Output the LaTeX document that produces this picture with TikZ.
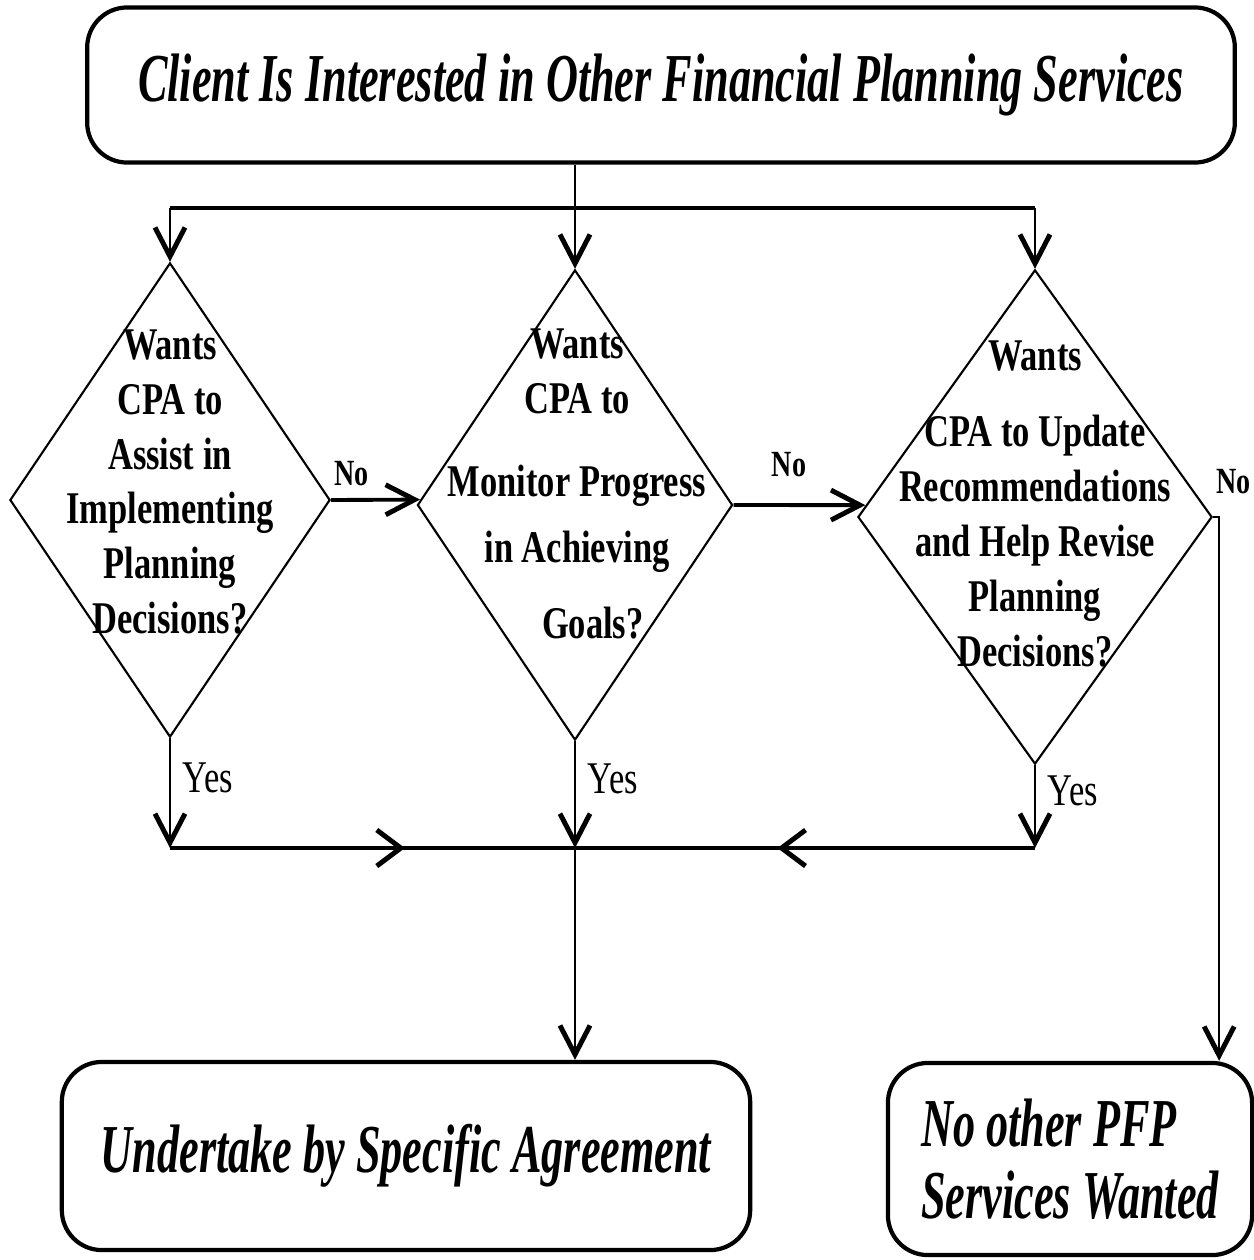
\documentclass[tikz,border=0pt]{standalone}
\usepackage{fontspec}
\setmainfont{Liberation Serif}[FakeStretch=0.76]
\newfontfamily\termfont{Liberation Serif}[FakeStretch=0.645]
\usetikzlibrary{positioning,arrows.meta,shapes.geometric,calc,decorations.markings}

\begin{document}
\begin{tikzpicture}[
  x=0.01cm, y=-0.01cm,
  term/.style={draw, line width=1.2pt, rounded corners=0.4cm, align=center,
               font=\termfont\fontsize{19.5}{20.5}\selectfont\bfseries\itshape},
  decision/.style={draw, diamond, line width=0.6pt, inner sep=0pt},
  qtext/.style={align=center, font=\fontsize{12.9}{15.6}\selectfont\bfseries},
  nolbl/.style={font=\fontsize{10.5}{12}\selectfont\bfseries},
  yeslbl/.style={font=\fontsize{12.9}{14}\selectfont},
  arrow/.style={-{Straight Barb[length=2.9mm, width=3mm, line width=1.4pt]}, line width=0.6pt},
  thickarrow/.style={arrow, line width=1.1pt},
  midto/.style={decoration={markings, mark=at position #1 with
                {\arrow{Straight Barb[length=2.4mm, width=3.6mm, line width=1.4pt]}}},
                postaction={decorate}}
]
  \useasboundingbox (0,0) rectangle (1254,1260);

  % start
  \node[term, minimum width=11.47cm, minimum height=1.55cm] (client) at (661,85)
    {Client Is Interested in Other Financial Planning Services};

  % decisions
  \node[decision, minimum width=3.2cm, minimum height=4.74cm] (assist) at (170,500) {};
  \node[decision, minimum width=3.15cm, minimum height=4.7cm] (monitor) at (575,505) {};
  \node[decision, minimum width=3.54cm, minimum height=4.94cm] (update) at (1035,517) {};

  \node[qtext] (assisttxt) at ($(assist)+(0,-18)$)
    {Wants\\CPA to\\Assist in\\Implementing\\Planning\\Decisions?};
  \node[qtext] (monitortxt) at ($(monitor)+(2,-21)$)
    {Wants\\CPA to\\[8pt]Monitor Progress\\[3pt]in Achieving\\[6pt]\hspace*{0.7em}Goals?};
  \node[qtext] (updatetxt) at ($(update)+(0,-13)$)
    {Wants\\[6pt]CPA to Update\\Recommendations\\and Help Revise\\Planning\\Decisions?};

  % ends
  \node[term, minimum width=6.88cm, minimum height=1.88cm] (agree) at (406,1156)
    {Undertake by Specific Agreement};
  \node[term, align=left, minimum width=3.64cm, minimum height=1.92cm] (noserv) at (1070,1159)
    {No other PFP\\Services Wanted};

  % fan out
  \coordinate (split) at (monitor.north |- 0,208);
  \draw[line width=1.1pt] (assist.north |- split) -- (update.north |- split);
  \draw[arrow] (monitor.north |- client.south) -- (monitor.north);
  \draw[arrow] (assist.north |- split) -- (assist.north);
  \draw[arrow] (update.north |- split) -- (update.north);

  % no branches
  \draw[thickarrow] (assist.east) -- node[nolbl, above, pos=0.23] (no1) {No} (monitor.178);
  \draw[thickarrow] (monitor.east) -- node[nolbl, above=4pt, pos=0.42] (no2) {No} (update.176);
  \coordinate (turn) at ($(update.east)+(6,0)$);
  \draw[arrow] (update.east) -- (turn) -- (turn |- noserv.north);
  \node[nolbl] (no3) at ($(turn)+(14,-35)$) {No};

  % yes branches
  \coordinate (join) at (monitor.south |- 0,848);
  \draw[arrow] (assist.south) -- node[yeslbl, right, pos=0.36] (yes1) {Yes} (assist.south |- join);
  \draw[arrow] (monitor.south) -- node[yeslbl, right, pos=0.35] (yes2) {Yes} (join);
  \draw[arrow] (update.south) -- node[yeslbl, right, pos=0.31] (yes3) {Yes} (update.south |- join);
  \draw[line width=1.1pt, midto=0.58] (assist.south |- join) -- (join);
  \draw[line width=1.1pt, midto=0.56] (update.south |- join) -- (join);
  \draw[arrow] (join) -- (join |- agree.north);
\end{tikzpicture}
\end{document}
